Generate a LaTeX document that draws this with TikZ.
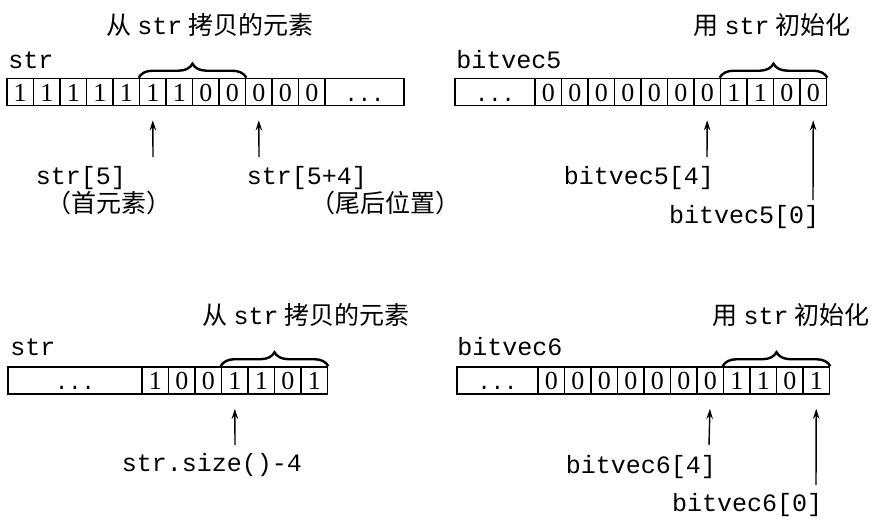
\documentclass[tikz,border=0pt]{standalone}
\usepackage{fontspec}
\setmainfont{Liberation Serif}
\setmonofont{Liberation Mono}
\newfontfamily\cjk{Noto Sans CJK SC}
\usetikzlibrary{arrows.meta,decorations.pathreplacing}
\tikzset{
  cell/.style={draw,line width=0.8pt,minimum width=13.25pt,minimum height=13.5pt,inner sep=0pt,
    text height=9pt,text depth=0pt,font=\fontsize{13}{15}\selectfont},
  dots/.style={cell,font=\fontsize{11}{13}\selectfont\ttfamily},
  lbl/.style={inner sep=0pt,font=\fontsize{12.5}{15}\selectfont\ttfamily},
  ttl/.style={inner sep=0pt,font=\fontsize{12.5}{15}\selectfont},
  brace/.style={decorate,decoration={brace,amplitude=7pt},line width=1.2pt},
  ptr/.style={->,line width=0.7pt,shorten >=7pt}
}
\begin{document}
\begin{tikzpicture}[x=0.5pt,y=-0.5pt,>={Stealth[length=5pt,width=3.2pt]}]
  \useasboundingbox (0,0) rectangle (882,526);

  \node[ttl] (t1) at (210,25) {{\cjk 从} \texttt{str} {\cjk 拷贝的元素}};
  \node[lbl,anchor=base west] (s1) at (8,68) {str};
  \foreach \v [count=\i from 0] in {1,1,1,1,1,1,1,0,0,0,0,0}
    \node[cell] (a\i) at ({7+26.5*(\i+0.5)},92) {\v};
  \node[dots,minimum width=39.5pt] (adots) at (364.5,92) {...};
  \draw[brace] (a5.north west) -- (a8.north east);
  \node[lbl] (l1) at (81,178) {str[5]};
  \node[ttl] (l2) at (109,203) {\cjk （首元素）};
  \node[lbl] (l3) at (307,178) {str[5+4]};
  \node[ttl] (l4) at (385,203) {\cjk （尾后位置）};
  \coordinate (p1) at (153,157);
  \coordinate (p2) at (259,157);
  \draw[ptr] (p1) -- (a5.south);
  \draw[ptr] (p2) -- (a9.south);

  \node[ttl] (t2) at (772,25) {{\cjk 用} \texttt{str} {\cjk 初始化}};
  \node[lbl,anchor=base west] (s2) at (456,68) {bitvec5};
  \node[dots,minimum width=40pt] (bdots) at (495,92) {...};
  \foreach \v [count=\i from 0] in {0,0,0,0,0,0,0,1,1,0,0}
    \node[cell] (b\i) at ({535+26.5*(\i+0.5)},92) {\v};
  \draw[brace] (b7.north west) -- (b10.north east);
  \node[lbl] (l5) at (639,178) {bitvec5[4]};
  \node[lbl] (l6) at (744,217) {bitvec5[0]};
  \coordinate (p3) at (707,157);
  \coordinate (p4) at (813,200);
  \draw[ptr] (p3) -- (b6.south);
  \draw[ptr] (p4) -- (b10.south);

  \node[ttl] (t3) at (306,315) {{\cjk 从} \texttt{str} {\cjk 拷贝的元素}};
  \node[lbl,anchor=base west] (s3) at (10,355) {str};
  \node[dots,minimum width=67pt] (cdots) at (75,380.5) {...};
  \foreach \v [count=\i from 0] in {1,0,0,1,1,0,1}
    \node[cell] (c\i) at ({142+26.5*(\i+0.5)},380.5) {\v};
  \draw[brace] (c3.north west) -- (c6.north east);
  \node[lbl] (l7) at (212,465) {str.size()-4};
  \coordinate (p5) at (235,445);
  \draw[ptr] (p5) -- (c3.south);

  \node[ttl] (t4) at (791,315) {{\cjk 用} \texttt{str} {\cjk 初始化}};
  \node[lbl,anchor=base west] (s4) at (457,355) {bitvec6};
  \node[dots,minimum width=40.5pt] (ddots) at (497.5,380.5) {...};
  \foreach \v [count=\i from 0] in {0,0,0,0,0,0,0,1,1,0,1}
    \node[cell] (d\i) at ({538+26.5*(\i+0.5)},380.5) {\v};
  \draw[brace] (d7.north west) -- (d10.north east);
  \node[lbl] (l8) at (641,467) {bitvec6[4]};
  \node[lbl] (l9) at (747,505) {bitvec6[0]};
  \coordinate (p6) at (709,445);
  \coordinate (p7) at (816,485);
  \draw[ptr] (p6) -- (d6.south);
  \draw[ptr] (p7) -- (d10.south);
\end{tikzpicture}
\end{document}
